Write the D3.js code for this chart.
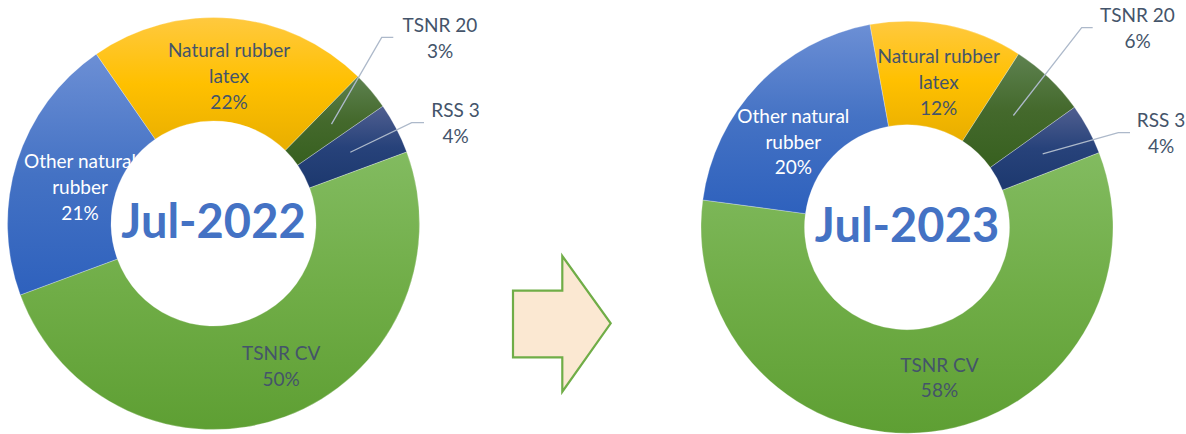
<!DOCTYPE html>
<html>
<head>
<meta charset="utf-8">
<script src="https://cdn.jsdelivr.net/npm/d3@7/dist/d3.min.js"></script>
<style>
  html, body { margin: 0; padding: 0; background: #fff; }
  svg { display: block; }
</style>
</head>
<body>
<svg id="chart" width="1186" height="434"></svg>
<script>
// ---------------- data ----------------
const categories = ["Natural rubber latex", "TSNR 20", "RSS 3", "TSNR CV", "Other natural rubber"];
const labelLines = [["Natural rubber", "latex"], ["TSNR 20"], ["RSS 3"], ["TSNR CV"], ["Other natural", "rubber"]];
const values2022 = [22, 3, 4, 50, 21];
const values2023 = [12, 6, 4, 58, 20];
const titles = ["Jul-2022", "Jul-2023"];

// ---------------- styles ----------------
const gradStops = {
  "Natural rubber latex": ["#FFC93F", "#FFC000", "#E8AE00"],
  "TSNR 20": ["#5E8250", "#44692C", "#37601F"],
  "RSS 3": ["#505F90", "#27427A", "#1C386E"],
  "TSNR CV": ["#82BB60", "#70AD47", "#5E9F33"],
  "Other natural rubber": ["#6C8FD5", "#4472C4", "#2E61BD"]
};
const labelFill = {
  "Natural rubber latex": "#44546A", "TSNR 20": "#44546A", "RSS 3": "#44546A",
  "TSNR CV": "#44546A", "Other natural rubber": "#FFFFFF"
};

// ---------------- layout ----------------
const R = 206, r = 102.5, lineH = 25.8;
const charts = [
  { values: values2022, title: titles[0], cx: 213.5, cy: 223.5, start: -34.7,
    labels: {
      "Natural rubber latex": { x: 15.5, y: -166.2 },
      "TSNR CV": { x: 67.7, y: 136.5 },
      "Other natural rubber": { x: -133.5, y: -55.2 },
      "TSNR 20": { x: 226.5, y: -191.8, ex: 168.2, ey: -186.2, hx: 179.8 },
      "RSS 3": { x: 242, y: -106.8, ex: 198.2, ey: -100.8, hx: 210.5 }
    } },
  { values: values2023, title: titles[1], cx: 907, cy: 227.2, start: -10.4,
    labels: {
      "Natural rubber latex": { x: 31.7, y: -163.9 },
      "TSNR CV": { x: 32.5, y: 144.5 },
      "Other natural rubber": { x: -113.7, y: -104.5 },
      "TSNR 20": { x: 230.5, y: -205.5, ex: 174.7, ey: -199.5, hx: 185.7 },
      "RSS 3": { x: 254, y: -100.5, ex: 211.3, ey: -94.5, hx: 223 }
    } }
];

const svg = d3.select("#chart");
const defs = svg.append("defs");
categories.forEach((c, i) => {
  const g = defs.append("linearGradient").attr("id", "g" + i)
    .attr("x1", 0).attr("y1", 0).attr("x2", 0).attr("y2", 1);
  const s = gradStops[c];
  g.append("stop").attr("offset", "0%").attr("stop-color", s[0]);
  g.append("stop").attr("offset", "50%").attr("stop-color", s[1]);
  g.append("stop").attr("offset", "100%").attr("stop-color", s[2]);
});

const font = "Lato, 'Open Sans', sans-serif";
const arc = d3.arc().innerRadius(r).outerRadius(R);
const midArc = d3.arc().innerRadius((R + r) / 2).outerRadius((R + r) / 2);

charts.forEach(ch => {
  const total = d3.sum(ch.values);
  const pie = d3.pie().sort(null).value(d => d)
    .startAngle(ch.start * Math.PI / 180)
    .endAngle(ch.start * Math.PI / 180 + 2 * Math.PI);
  const arcs = pie(ch.values);
  const g = svg.append("g").attr("transform", `translate(${ch.cx},${ch.cy})`);

  g.selectAll("path.slice").data(arcs).join("path")
    .attr("class", "slice")
    .attr("d", arc)
    .attr("fill", (d, i) => `url(#g${i})`)
    .attr("stroke", "rgba(255,255,255,0.45)")
    .attr("stroke-width", 0.6);

  arcs.forEach((d, i) => {
    const cat = categories[i];
    const L = ch.labels[cat];
    const pct = Math.round(d.value / total * 100) + "%";
    const lines = labelLines[i].concat([pct]);
    if (L.ex !== undefined) {
      const c = midArc.centroid(d);
      g.append("path")
        .attr("d", d3.line()([c, [L.ex, L.ey], [L.hx, L.ey]]))
        .attr("fill", "none").attr("stroke", "#ADB9CA").attr("stroke-width", 1.3);
    }
    const t = g.append("text")
      .attr("text-anchor", "middle")
      .attr("font-family", font).attr("font-size", 19)
      .attr("fill", labelFill[cat]);
    lines.forEach((ln, k) => {
      t.append("tspan").attr("x", L.x).attr("y", L.y + k * lineH).text(ln);
    });
  });

  g.append("text")
    .attr("text-anchor", "middle")
    .attr("x", 0).attr("y", 14.8)
    .attr("font-family", font).attr("font-weight", 700).attr("font-size", 47)
    .attr("fill", "#4472C4")
    .text(ch.title);
});

// arrow shape between the two charts
const arrowPts = [[513, 290.7], [562.3, 290.7], [562.3, 256], [610.7, 323.3], [562.3, 391.7], [562.3, 357.3], [513, 357.3]];
svg.append("path")
  .attr("d", d3.line()(arrowPts) + "Z")
  .attr("fill", "#FBE8D2").attr("stroke", "#70AD47").attr("stroke-width", 2.2)
  .attr("stroke-linejoin", "miter");
</script>
</body>
</html>
